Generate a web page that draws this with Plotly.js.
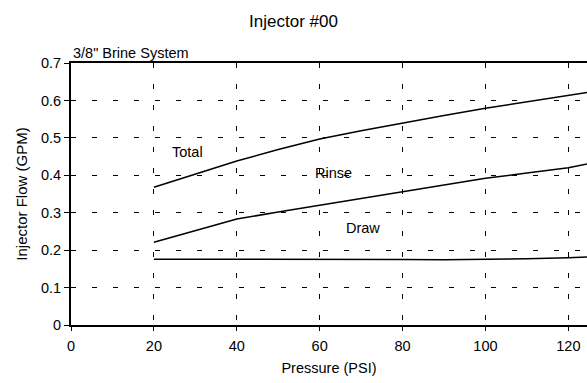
<!DOCTYPE html>
<html>
<head>
<meta charset="utf-8">
<script src="https://cdn.plot.ly/plotly-3.0.1.min.js"></script>
<style>html,body{margin:0;padding:0;background:#fff;overflow:hidden}</style>
</head>
<body>
<div id="chart" style="width:587px;height:383px"></div>
<script>
const pressure = [20, 30, 40, 50, 60, 70, 80, 90, 100, 110, 120, 125];
const totalFlow = [0.368, 0.403, 0.438, 0.469, 0.497, 0.519, 0.540, 0.560, 0.579, 0.596, 0.612, 0.622];
const rinseFlow = [0.221, 0.252, 0.283, 0.302, 0.320, 0.339, 0.357, 0.375, 0.392, 0.406, 0.420, 0.431];
const drawFlow  = [0.176, 0.176, 0.176, 0.177, 0.177, 0.176, 0.175, 0.174, 0.175, 0.177, 0.180, 0.182];
const xTicks = [0, 20, 40, 60, 80, 100, 120];
const yTicks = [0, 0.1, 0.2, 0.3, 0.4, 0.5, 0.6, 0.7];
const yTickText = ['0', '0.1', '0.2', '0.3', '0.4', '0.5', '0.6', '0.7'];
const labels = [
  {text: 'Total', x: 28, y: 0.463},
  {text: 'Rinse', x: 63.3, y: 0.406},
  {text: 'Draw', x: 70.5, y: 0.259}
];

const lineStyle = {color: '#000', width: 1.5};
const traces = [totalFlow, rinseFlow, drawFlow].map(v => ({
  x: pressure, y: v, type: 'scatter', mode: 'lines', line: lineStyle,
  hoverinfo: 'skip', showlegend: false, cliponaxis: true
}));

const font = {family: 'Liberation Sans, Arial, sans-serif', color: '#000', size: 14.5};
const layout = {
  width: 587, height: 383,
  margin: {l: 71, r: 0, t: 63, b: 58, pad: 0},
  paper_bgcolor: '#fff', plot_bgcolor: '#fff',
  font: font,
  showlegend: false,
  title: {text: 'Injector #00', x: 0.5, xanchor: 'center', y: 0.96, yanchor: 'top',
          font: {family: font.family, size: 17, color: '#000'}},
  xaxis: {
    range: [0, 124.5], tickvals: xTicks, ticktext: xTicks.map(String),
    showline: true, linecolor: '#000', linewidth: 2, mirror: true,
    ticks: 'outside', ticklen: 4, tickwidth: 1, tickcolor: '#000',
    ticklabelstandoff: 3,
    showgrid: true, gridcolor: '#000', gridwidth: 1, griddash: '5px,16px',
    zeroline: false, tickfont: {size: 14.5},
    title: {text: 'Pressure (PSI)', font: {size: 14.5}, standoff: 9}
  },
  yaxis: {
    range: [0, 0.7], tickvals: yTicks, ticktext: yTickText,
    showline: true, linecolor: '#000', linewidth: 2, mirror: false,
    ticks: 'outside', ticklen: 5, tickwidth: 1, tickcolor: '#000',
    showgrid: true, gridcolor: '#000', gridwidth: 1, griddash: '5px,16px',
    zeroline: false, tickfont: {size: 14.5},
    title: {text: 'Injector Flow (GPM)', font: {size: 15}, standoff: 10}
  },
  annotations: labels.map(l => ({
    text: l.text, x: l.x, y: l.y, xref: 'x', yref: 'y', showarrow: false,
    font: {size: 14.5, color: '#000'}
  })).concat([{
    text: '3/8" Brine System', xref: 'paper', yref: 'paper', x: 0, y: 1,
    xanchor: 'left', yanchor: 'bottom', yshift: 0, showarrow: false,
    font: {size: 14.5, color: '#000'}
  }])
};

Plotly.newPlot('chart', traces, layout, {displayModeBar: false, staticPlot: true});
</script>
</body>
</html>
